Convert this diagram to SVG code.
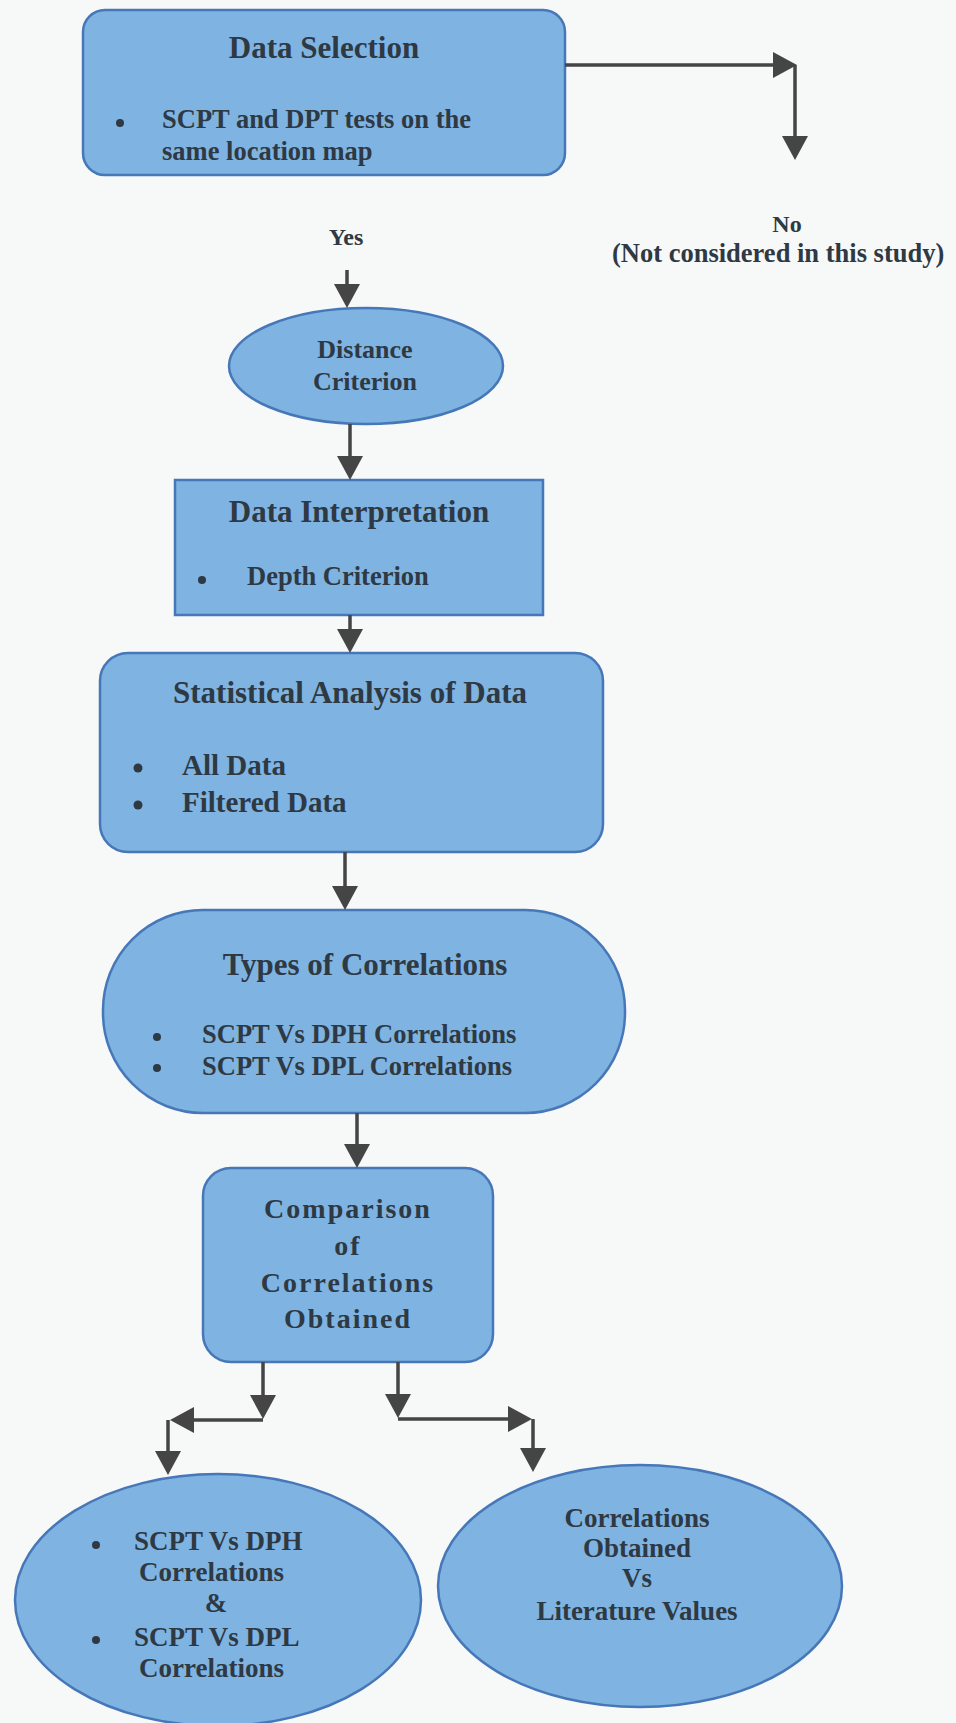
<svg xmlns="http://www.w3.org/2000/svg" width="956" height="1723" viewBox="0 0 956 1723">
<style>
.shape{fill:#7fb3e1;stroke:#4677b8;stroke-width:2.5}
text{font-family:"Liberation Serif","Times New Roman",serif;font-weight:bold;fill:#2e3943}
.t{font-size:31px;text-anchor:middle}
.b{font-size:26.5px}
.c{font-size:26px;text-anchor:middle}
.dot{fill:#2e3943}
.con line{stroke:#454545;stroke-width:3.5;fill:none;marker-end:url(#ah)}
</style>
<defs>
<marker id="ah" markerUnits="userSpaceOnUse" viewBox="0 0 24 26" markerWidth="24" markerHeight="26" refX="12" refY="13" orient="auto">
<path d="M0,0 L24,13 L0,26 z" fill="#454545"/>
</marker>
</defs>
<rect x="0" y="0" width="956" height="1723" fill="#f7f8f8"/>

<g id="data-selection">
<rect class="shape" x="83" y="10" width="482" height="165" rx="22"/>
<text class="t" x="324" y="58">Data Selection</text>
<circle class="dot" cx="120" cy="123" r="4"/>
<text class="b" x="162" y="128">SCPT and DPT tests on the</text>
<text class="b" x="162" y="160">same location map</text>
</g>

<g id="no-label">
<text style="font-size:24px;text-anchor:middle" x="787" y="232">No</text>
<text style="font-size:26.5px" x="612" y="262">(Not considered in this study)</text>
</g>

<g id="yes-label">
<text style="font-size:24px;text-anchor:middle" x="346" y="245">Yes</text>
</g>

<g id="distance-criterion">
<ellipse class="shape" cx="366" cy="366" rx="137" ry="58"/>
<text class="c" x="365" y="358">Distance</text>
<text class="c" x="365" y="390">Criterion</text>
</g>

<g id="data-interpretation">
<rect class="shape" x="175" y="480" width="368" height="135"/>
<text class="t" x="359" y="522">Data Interpretation</text>
<circle class="dot" cx="202" cy="580" r="4"/>
<text class="b" x="247" y="585">Depth Criterion</text>
</g>

<g id="statistical-analysis">
<rect class="shape" x="100" y="653" width="503" height="199" rx="28"/>
<text class="t" x="350" y="703">Statistical Analysis of Data</text>
<circle class="dot" cx="138" cy="768" r="4.5"/>
<circle class="dot" cx="138" cy="805" r="4.5"/>
<text style="font-size:29px" x="182" y="775">All Data</text>
<text style="font-size:29px" x="182" y="812">Filtered Data</text>
</g>

<g id="types-of-correlations">
<rect class="shape" x="103" y="910" width="522" height="203" rx="100" ry="100"/>
<text class="t" x="365" y="975">Types of Correlations</text>
<circle class="dot" cx="157" cy="1037" r="4"/>
<circle class="dot" cx="157" cy="1068" r="4"/>
<text class="b" x="202" y="1043">SCPT Vs DPH Correlations</text>
<text class="b" x="202" y="1075">SCPT Vs DPL Correlations</text>
</g>

<g id="comparison">
<rect class="shape" x="203" y="1168" width="290" height="194" rx="28"/>
<text class="c" style="font-size:28px;letter-spacing:2px" x="348" y="1218">Comparison</text>
<text class="c" style="font-size:28px;letter-spacing:2px" x="348" y="1255">of</text>
<text class="c" style="font-size:28px;letter-spacing:2px" x="348" y="1292">Correlations</text>
<text class="c" style="font-size:28px;letter-spacing:2px" x="348" y="1328">Obtained</text>
</g>

<g id="scpt-correlations">
<ellipse class="shape" cx="218" cy="1600" rx="203" ry="126"/>
<circle class="dot" cx="96" cy="1545" r="4"/>
<circle class="dot" cx="96" cy="1640" r="4"/>
<text style="font-size:27px" x="134" y="1550">SCPT Vs DPH</text>
<text style="font-size:27px" x="139" y="1581">Correlations</text>
<text style="font-size:27px;text-anchor:middle" x="216" y="1612">&amp;</text>
<text style="font-size:27px" x="134" y="1646">SCPT Vs DPL</text>
<text style="font-size:27px" x="139" y="1677">Correlations</text>
</g>

<g id="literature-comparison">
<ellipse class="shape" cx="640" cy="1586" rx="202" ry="121"/>
<text class="c" style="font-size:27px" x="637" y="1527">Correlations</text>
<text class="c" style="font-size:27px" x="637" y="1557">Obtained</text>
<text class="c" style="font-size:27px" x="637" y="1587">Vs</text>
<text class="c" style="font-size:27px" x="637" y="1620">Literature Values</text>
</g>

<g id="connectors" class="con">
<line x1="565" y1="65" x2="785" y2="65"/>
<line x1="795" y1="65" x2="795" y2="148"/>
<line x1="347" y1="270" x2="347" y2="296"/>
<line x1="350" y1="424" x2="350" y2="468"/>
<line x1="350" y1="615" x2="350" y2="641"/>
<line x1="345" y1="852" x2="345" y2="898"/>
<line x1="357" y1="1113" x2="357" y2="1156"/>
<line x1="263" y1="1362" x2="263" y2="1407"/>
<line x1="263" y1="1420" x2="182" y2="1420"/>
<line x1="168" y1="1420" x2="168" y2="1463"/>
<line x1="398" y1="1362" x2="398" y2="1406"/>
<line x1="398" y1="1419" x2="520" y2="1419"/>
<line x1="533" y1="1419" x2="533" y2="1460"/>
</g>
</svg>
